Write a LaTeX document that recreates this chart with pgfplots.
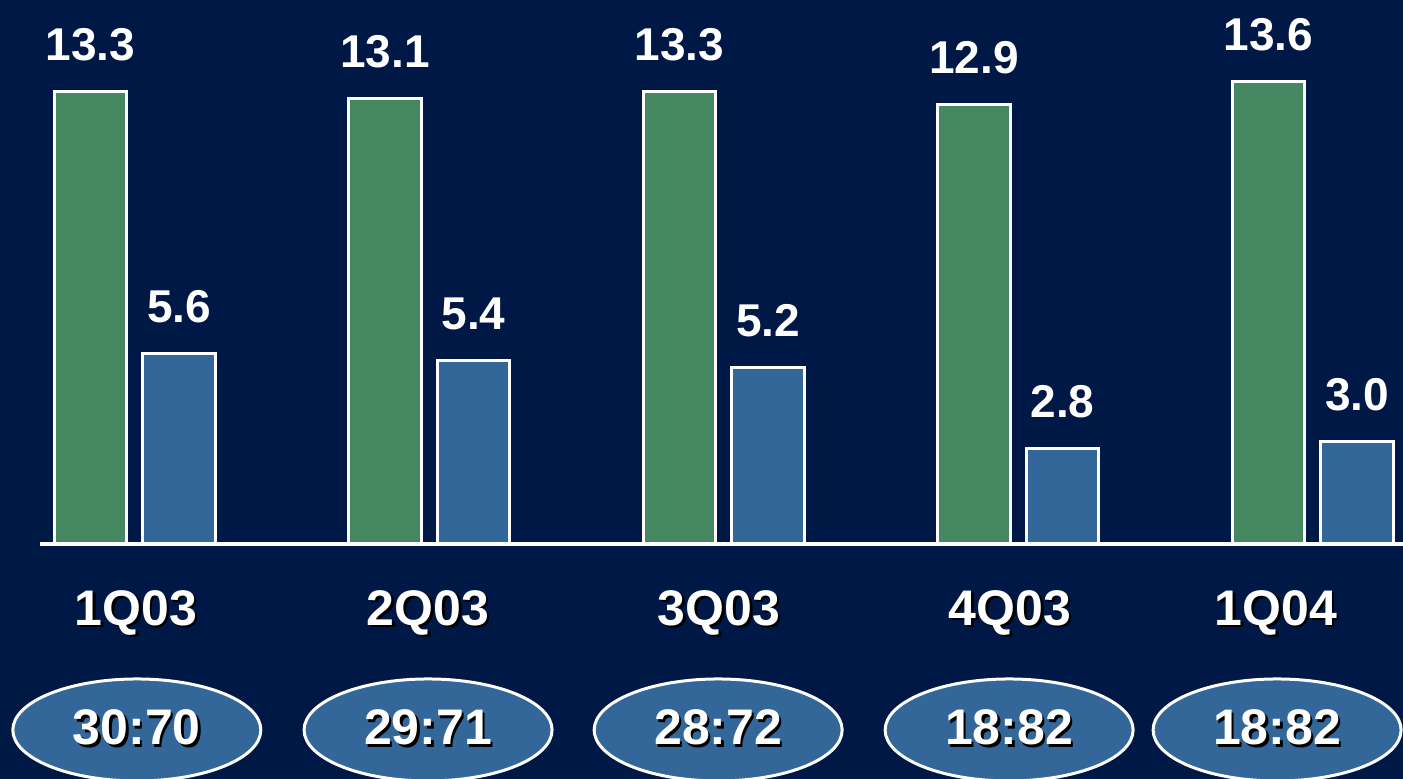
\documentclass[border=0pt]{standalone}
\usepackage{pgfplots}
\pgfplotsset{compat=1.18}
\usepackage{fontspec}
\setmainfont{Liberation Sans}
\usetikzlibrary{shapes.geometric}
\definecolor{bg}{HTML}{001845}
\definecolor{gbar}{HTML}{448760}
\definecolor{bbar}{HTML}{336699}
\newcommand{\catfont}{\bfseries\fontsize{50}{54}\selectfont}
\newcommand{\shtext}[3]{%
  \node[font=\catfont, text=black, anchor=base, inner sep=0pt, xshift=2.5pt, yshift=-2.5pt] at (axis cs:#1,#2) {#3};
  \node[font=\catfont, text=white, anchor=base, inner sep=0pt] at (axis cs:#1,#2) {#3};}
\newcommand{\ovl}[2]{%
  \node[ellipse, draw=white, line width=3pt, fill=bbar, minimum width=248pt, minimum height=102pt, inner sep=0pt] at (axis cs:#1,#2) {};}
\begin{document}
\begin{tikzpicture}
\fill[bg] (0,0) rectangle (1403pt,779pt);
\begin{axis}[
  at={(0,0)}, anchor=south west,
  scale only axis, width=1403pt, height=779pt,
  xmin=-0.4576, xmax=4.3065, ymin=-6.90, ymax=15.98,
  hide axis, clip=false,
  ybar, bar width=0.245,
  /pgf/number format/assume math mode=true,
  nodes near coords={\pgfmathprintnumber[fixed,fixed zerofill,precision=1]{\pgfplotspointmeta}},
  nodes near coords style={font=\bfseries\fontsize{46}{50}\selectfont, text=white, anchor=base, inner sep=0pt, yshift=31pt},
]
\addplot[fill=gbar, draw=white, line width=3pt, bar shift=-0.1503] coordinates {(0,13.3) (1,13.1) (2,13.3) (3,12.9) (4,13.6)};
\addplot[fill=bbar, draw=white, line width=3pt, bar shift=0.1503] coordinates {(0,5.6) (1,5.4) (2,5.2) (3,2.8) (4,3.0)};
\draw[white, line width=4pt] (axis cs:-0.322,0) -- (axis cs:4.3065,0);
\shtext{0.004}{-2.38}{1Q03}
\shtext{0.996}{-2.38}{2Q03}
\shtext{1.984}{-2.38}{3Q03}
\shtext{2.972}{-2.38}{4Q03}
\shtext{3.875}{-2.38}{1Q04}
\ovl{0.007}{-5.46}
\ovl{0.996}{-5.46}
\ovl{1.981}{-5.46}
\ovl{2.969}{-5.46}
\ovl{3.879}{-5.46}
\shtext{0.007}{-5.90}{30:70}
\shtext{0.996}{-5.90}{29:71}
\shtext{1.981}{-5.90}{28:72}
\shtext{2.969}{-5.90}{18:82}
\shtext{3.879}{-5.90}{18:82}
\end{axis}
\pgfresetboundingbox
\path (0,0) rectangle (1403pt,779pt);
\end{tikzpicture}
\end{document}
